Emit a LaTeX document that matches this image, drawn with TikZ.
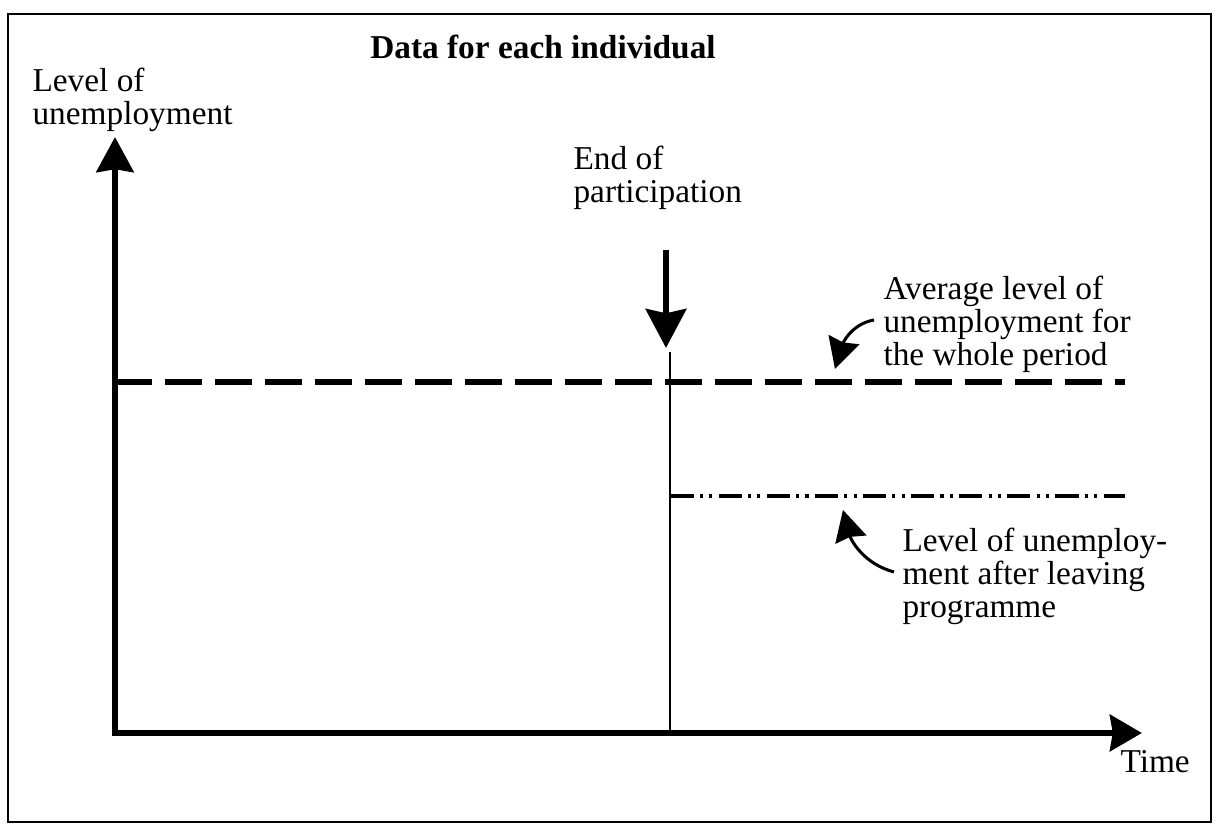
\documentclass[tikz,border=0pt]{standalone}
\usepackage{fontspec}
\setmainfont{Liberation Serif}
\usetikzlibrary{positioning}
\usetikzlibrary{arrows.meta}
\usetikzlibrary{calc}

\begin{document}
\begin{tikzpicture}[x=0.36pt, y=0.36pt, font=\fontsize{12}{11.9}\selectfont,
  txt/.style={anchor=base west, align=left, inner sep=0pt},
  thick axis/.style={line width=2.4pt, line join=miter},
  bighead/.style={-{Stealth[length=14pt,width=14.5pt,inset=1.5pt]}},
  curvy/.style={line width=1.1pt, -{Stealth[length=11pt,width=11.5pt,inset=1pt]}}]
\useasboundingbox (0,0) rectangle (1216,824);
\coordinate (fsw) at (8,2);
\coordinate (fne) at (1211,810);
\draw[line width=0.8pt] (fsw) rectangle (fne);
%%%%%%%%%%%%%%
\coordinate (origin) at (115,91);
\coordinate (ytip) at (115,687);
\coordinate (xtip) at (1142,91);
\coordinate (cut) at (670,91);
\coordinate (cuttop) at (670,472);
\coordinate (endtop) at (666,574);
\coordinate (endtip) at (666,476);
%%%%%%%%%%%%%%
\coordinate (avgl) at (115,442);
\coordinate (avgr) at (1125,442);
\coordinate (afterl) at (671,328);
\coordinate (afterr) at (1125,328);
%%%%%%%%%%%%%%
\coordinate (avgfrom) at (874,504);
\coordinate (avgto) at (835,455);
\coordinate (afterfrom) at (894,252);
\coordinate (afterto) at (843,314);
%%%%%%%%%%%%%%%%%%%%%%%%%%%%%%%%%%%%%%%%%%
\node[txt] (ylab) at (32,699) {Level of\\unemployment};
\node[anchor=base, inner sep=0pt] (title) at (543,765) {\bfseries Data for each individual};
\node[txt] (endlab) at (573,621) {End of\\participation};
\node[txt] (avglab) at (883,458) {Average level of\\unemployment for\\the whole period};
\node[txt] (afterlab) at (902,206) {Level of unemploy-\\ment after leaving\\programme};
\node[txt] (xlab) at (1120,51) {Time};

\draw[thick axis, {Stealth[length=12.6pt,width=13.3pt,inset=1pt]}-{Stealth[length=11.5pt,width=13pt,inset=1pt]}] (ytip) -- (origin) -- (xtip);
\draw[line width=1pt] (cuttop) -- (cut);
\draw[thick axis, bighead] (endtop) -- (endtip);
%%%%%%%%%%%%%%%%%%%%%%%%%%
\draw[line width=2.2pt, dash pattern=on 13.3pt off 4.7pt] (avgl) -- (avgr);
\draw[line width=1.4pt, dash pattern=on 8.3pt off 2.2pt on 1.1pt off 2.2pt on 1.1pt off 2.4pt] (afterl) -- (afterr);
%%%%%%%%%%%%%%%%%%%%%%%%%%
\draw[curvy] (avgfrom) to[out=190,in=73] (avgto);
\draw[curvy] (afterfrom) to[out=165,in=-75] (afterto);
\end{tikzpicture}
\end{document}
